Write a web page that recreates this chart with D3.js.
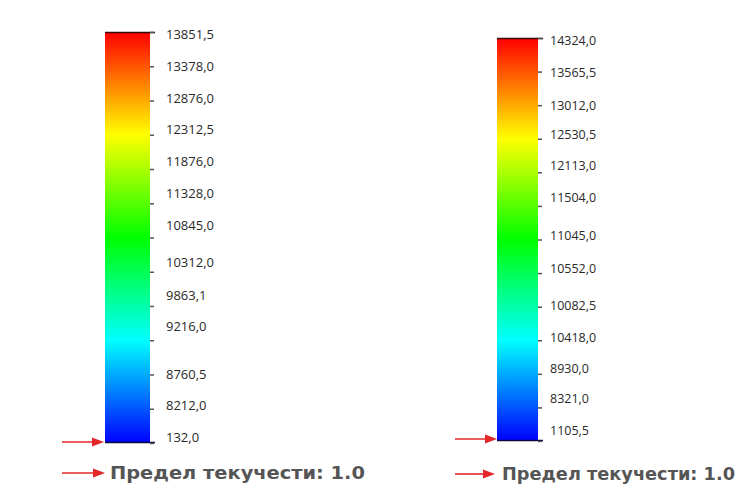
<!DOCTYPE html>
<html>
<head>
<meta charset="utf-8">
<script src="https://cdn.jsdelivr.net/npm/d3@7"></script>
<style>
  body { margin: 0; background: #fff; }
  svg { display: block; }
</style>
</head>
<body>
<svg id="chart" width="737" height="498"></svg>
<script>
// Stress legend values, top of the scale to the bottom
const leftValues  = [13851.5, 13378.0, 12876.0, 12312.5, 11876.0, 11328.0, 10845.0,
                     10312.0, 9863.1, 9216.0, 8760.5, 8212.0, 132.0];
const rightValues = [14324.0, 13565.5, 13012.0, 12530.5, 12113.0, 11504.0, 11045.0,
                     10552.0, 10082.5, 10418.0, 8930.0, 8321.0, 1105.5];
const legendTitle = "Предел текучести: 1.0";
// Rainbow ramp, high (red) to low (blue)
const rampColors = ["#ff0000", "#ffff00", "#00ff00", "#00ffff", "#0000ff"];

// Layout of the two legend columns
const panels = [
  { id: "L", values: leftValues, x: 105, w: 45, top: 32, bottom: 443,
    tickPad: 12, fontSize: 13,
    labelShift: [2, 0, -2, -5, -8, -10, -12, -9, -11, -14, 0, -3, -6],
    arrowStart: 62, upperArrowY: 442, upperTip: 104,
    titleArrowY: 473, titleTip: 105, titleX: 110, titleW: 255 },
  { id: "R", values: rightValues, x: 497, w: 41, top: 38, bottom: 441,
    tickPad: 8, fontSize: 12.5,
    labelShift: [2, 1, 0, -4, -7, -8, -4, -5, -1, -3, -5, -9, -11],
    arrowStart: 455, upperArrowY: 439, upperTip: 497,
    titleArrowY: 474, titleTip: 495, titleX: 502, titleW: 233 }
];

const fmt = d3.formatLocale({ decimal: ",", thousands: "", grouping: [3], currency: ["", ""] })
  .format(".1f");

const svg = d3.select("#chart");
const defs = svg.append("defs");

function arrow(g, x0, tip, y) {
  g.append("line")
    .attr("x1", x0).attr("x2", tip - 9)
    .attr("y1", y).attr("y2", y)
    .attr("stroke", "#e3262a").attr("stroke-width", 1.6);
  g.append("path")
    .attr("d", `M${tip},${y} L${tip - 12},${y - 4.5} L${tip - 12},${y + 4.5} Z`)
    .attr("fill", "#e3262a");
}

panels.forEach(p => {
  const grad = defs.append("linearGradient")
    .attr("id", "ramp" + p.id)
    .attr("x1", 0).attr("y1", 0).attr("x2", 0).attr("y2", 1);
  grad.selectAll("stop").data(rampColors).join("stop")
    .attr("offset", (d, i) => i / (rampColors.length - 1))
    .attr("stop-color", d => d);

  const g = svg.append("g");

  // Evenly spaced ticks, one per listed value
  const y = d3.scalePoint().domain(p.values).range([p.top, p.bottom]);

  g.append("rect")
    .attr("x", p.x).attr("y", p.top)
    .attr("width", p.w).attr("height", p.bottom - p.top)
    .attr("fill", `url(#ramp${p.id})`);

  // dark caps at the top and bottom of the bar
  g.append("line")
    .attr("x1", p.x).attr("x2", p.x + p.w + 5)
    .attr("y1", p.top + 0.5).attr("y2", p.top + 0.5)
    .attr("stroke", "#3a0a0a").attr("stroke-width", 1.5);
  g.append("line")
    .attr("x1", p.x).attr("x2", p.x + p.w + 5)
    .attr("y1", p.bottom - 0.5).attr("y2", p.bottom - 0.5)
    .attr("stroke", "#0a0a40").attr("stroke-width", 1.5);

  const axis = g.append("g")
    .attr("transform", `translate(${p.x + p.w},0)`)
    .call(d3.axisRight(y).tickSize(4).tickPadding(p.tickPad).tickFormat(fmt));
  axis.select(".domain").remove();
  axis.selectAll(".tick line").attr("stroke", "#555").attr("stroke-width", 1.5);
  axis.selectAll(".tick text")
    .attr("fill", "#2a2a2a")
    .attr("font-family", "'Open Sans', sans-serif")
    .attr("font-size", p.fontSize)
    .attr("y", (d, i) => p.labelShift[i]);

  arrow(g, p.arrowStart, p.upperTip, p.upperArrowY);
  arrow(g, p.arrowStart, p.titleTip, p.titleArrowY);

  g.append("text")
    .attr("x", p.titleX).attr("y", p.titleArrowY + 6)
    .attr("font-family", "'DejaVu Sans', sans-serif")
    .attr("font-weight", "bold")
    .attr("font-size", 17.5)
    .attr("fill", "#555")
    .attr("textLength", p.titleW)
    .attr("lengthAdjust", "spacingAndGlyphs")
    .text(legendTitle);
});
</script>
</body>
</html>
